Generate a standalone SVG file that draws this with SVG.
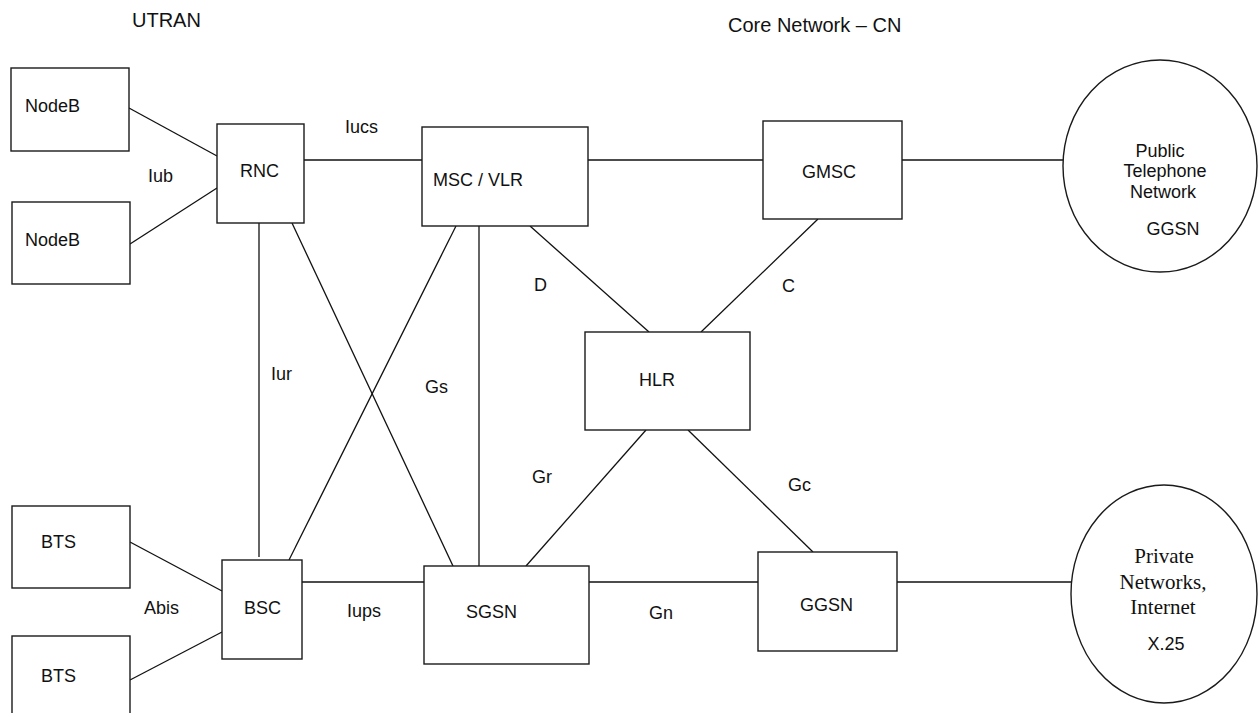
<svg xmlns="http://www.w3.org/2000/svg" width="1260" height="713" viewBox="0 0 1260 713">
<style>
.box{fill:#fff;stroke:#1a1a1a;stroke-width:1.4}
.ln{stroke:#111;stroke-width:1.3;fill:none}
.t{font-family:"Liberation Sans",Arial,sans-serif;font-size:18px;fill:#111}
.tt{font-family:"Liberation Sans",Arial,sans-serif;font-size:20px;fill:#111}
.s{font-family:"Liberation Serif","Times New Roman",serif;font-size:21px;fill:#111;text-anchor:middle}
.m{text-anchor:middle}
</style>
<rect width="1260" height="713" fill="#fff"/>
<text class="tt" x="132" y="27">UTRAN</text>
<text class="tt" x="728" y="32">Core Network – CN</text>
<g id="connectors">
<line class="ln" x1="129" y1="108" x2="217" y2="156"/>
<line class="ln" x1="130" y1="244" x2="217" y2="188"/>
<line class="ln" x1="304" y1="160" x2="422" y2="160"/>
<line class="ln" x1="588" y1="160" x2="763" y2="160"/>
<line class="ln" x1="902" y1="160" x2="1063" y2="160"/>
<line class="ln" x1="259" y1="223" x2="259" y2="557"/>
<line class="ln" x1="292" y1="223" x2="453" y2="566"/>
<line class="ln" x1="456" y1="226" x2="289" y2="560"/>
<line class="ln" x1="479" y1="226" x2="479" y2="566"/>
<line class="ln" x1="530" y1="226" x2="649" y2="332"/>
<line class="ln" x1="818" y1="219" x2="701" y2="332"/>
<line class="ln" x1="646" y1="430" x2="526" y2="566"/>
<line class="ln" x1="688" y1="430" x2="813" y2="552"/>
<line class="ln" x1="130" y1="542" x2="222" y2="591"/>
<line class="ln" x1="130" y1="680" x2="222" y2="632"/>
<line class="ln" x1="302" y1="582" x2="424" y2="582"/>
<line class="ln" x1="589" y1="582" x2="758" y2="582"/>
<line class="ln" x1="897" y1="582" x2="1071" y2="582"/>
<text class="t" x="148" y="182">Iub</text>
<text class="t" x="345" y="133">Iucs</text>
<text class="t" x="271" y="380">Iur</text>
<text class="t" x="425" y="393">Gs</text>
<text class="t" x="534" y="291">D</text>
<text class="t" x="782" y="292">C</text>
<text class="t" x="532" y="483">Gr</text>
<text class="t" x="788" y="491">Gc</text>
<text class="t" x="144" y="614">Abis</text>
<text class="t" x="347" y="617">Iups</text>
<text class="t" x="649" y="619">Gn</text>
</g>
<g id="nodeb1"><rect class="box" x="11" y="68" width="118" height="83"/><text class="t" x="25" y="112">NodeB</text></g>
<g id="nodeb2"><rect class="box" x="12" y="202" width="118" height="82"/><text class="t" x="25" y="246">NodeB</text></g>
<g id="rnc"><rect class="box" x="217" y="124" width="87" height="99"/><text class="t" x="240" y="177">RNC</text></g>
<g id="msc"><rect class="box" x="422" y="127" width="166" height="99"/><text class="t" x="433" y="186">MSC / VLR</text></g>
<g id="gmsc"><rect class="box" x="763" y="121" width="139" height="98"/><text class="t" x="802" y="178">GMSC</text></g>
<g id="hlr"><rect class="box" x="585" y="332" width="165" height="98"/><text class="t" x="639" y="386">HLR</text></g>
<g id="bts1"><rect class="box" x="12" y="506" width="118" height="82"/><text class="t" x="41" y="548">BTS</text></g>
<g id="bts2"><rect class="box" x="12" y="636" width="118" height="90"/><text class="t" x="41" y="682">BTS</text></g>
<g id="bsc"><rect class="box" x="222" y="560" width="80" height="99"/><text class="t" x="244" y="614">BSC</text></g>
<g id="sgsn"><rect class="box" x="424" y="566" width="165" height="98"/><text class="t" x="466" y="618">SGSN</text></g>
<g id="ggsn"><rect class="box" x="758" y="552" width="139" height="99"/><text class="t" x="800" y="611">GGSN</text></g>
<g id="pstn"><ellipse class="box" cx="1160" cy="166" rx="97" ry="106"/>
<text class="t m" x="1160" y="157">Public</text>
<text class="t m" x="1165" y="177">Telephone</text>
<text class="t m" x="1163" y="198">Network</text>
<text class="t m" x="1173" y="235">GGSN</text></g>
<g id="private"><ellipse class="box" cx="1164" cy="594" rx="93" ry="109"/>
<text class="s" x="1164" y="563">Private</text>
<text class="s" x="1163" y="589">Networks,</text>
<text class="s" x="1163" y="614">Internet</text>
<text class="t m" x="1166" y="650">X.25</text></g>
</svg>
